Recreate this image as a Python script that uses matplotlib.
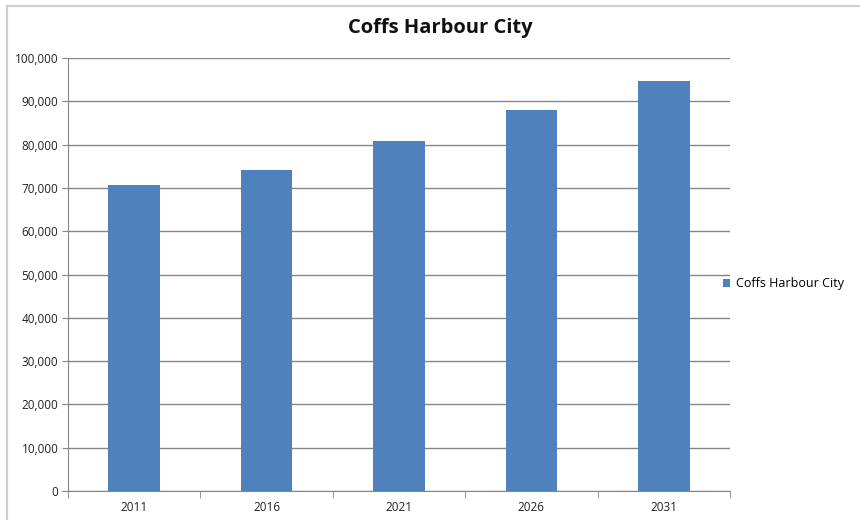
import matplotlib
matplotlib.use("Agg")
import matplotlib.pyplot as plt
from matplotlib.patches import Rectangle
from matplotlib.ticker import FuncFormatter, MultipleLocator

years = ["2011", "2016", "2021", "2026", "2031"]
population = [70700, 74200, 80900, 88100, 94800]
series_name = "Coffs Harbour City"
title = "Coffs Harbour City"

plt.rcParams['font.family'] = ['Open Sans', 'DejaVu Sans']

fig = plt.figure(figsize=(8.6, 5.2), dpi=100)
fig.patch.set_facecolor("white")
ax = fig.add_axes([68/860, 29/520, (730-68)/860, (491-58)/520])

# outer chart frame
fig.patches.append(Rectangle((6.5/860, -0.01), 1.0, (520-6)/520 + 0.01,
                             transform=fig.transFigure, fill=False,
                             edgecolor="#d0cec8", linewidth=1.5))

x = list(range(len(years)))
ax.bar(x, population, width=0.39, color="#4F81BD", label=series_name, zorder=3)

ax.set_xlim(-0.5, len(years) - 0.5)
ax.set_ylim(0, 100000)
ax.yaxis.set_major_locator(MultipleLocator(10000))
ax.yaxis.set_major_formatter(FuncFormatter(lambda v, p: f"{int(v):,}"))
ax.grid(axis="y", color="#868686", linewidth=1.0, zorder=0)

ax.set_xticks(x)
ax.set_xticklabels(years)
ax.set_xticks([i - 0.5 for i in range(len(years) + 1)], minor=True)
ax.tick_params(axis="x", which="major", length=0, pad=7, labelsize=8.5, labelcolor="#222222")
ax.tick_params(axis="x", which="minor", length=5, direction="out", color="#868686")
ax.tick_params(axis="y", which="major", length=4, direction="out", color="#868686",
               labelsize=8.5, labelcolor="#222222", pad=3)

for s in ["top", "right"]:
    ax.spines[s].set_visible(False)
for s in ["left", "bottom"]:
    ax.spines[s].set_color("#868686")

fig.text(440/860, 1 - 28/520, title, ha="center", va="center",
         fontsize=14.5, fontweight="bold", color="#111111")

leg = ax.legend(loc="center left", bbox_to_anchor=(718/860, 1 - 284/520),
                bbox_transform=fig.transFigure, frameon=False, fontsize=9,
                handlelength=0.55, handleheight=0.55, handletextpad=0.5,
                borderaxespad=0)

fig.savefig("out.png", dpi=100, facecolor="white")
